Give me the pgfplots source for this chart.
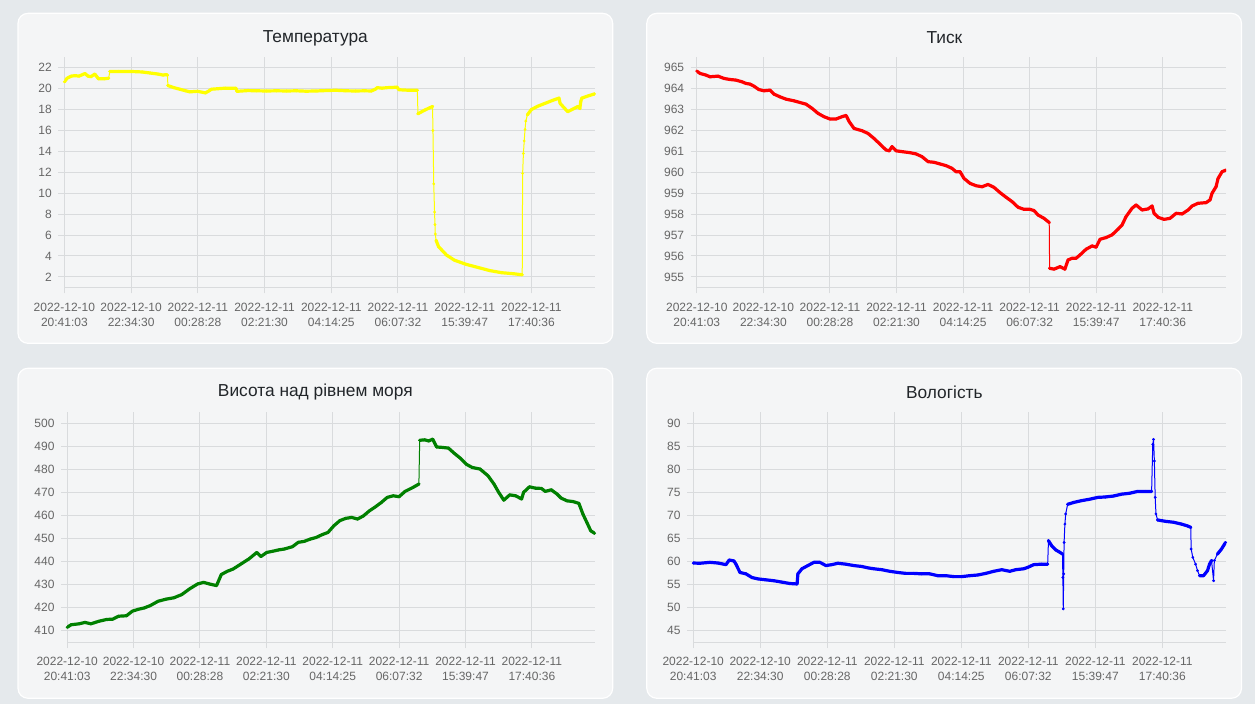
\documentclass[border=0pt]{standalone}
\usepackage{fontspec}
\setmainfont{Liberation Sans}
\usepackage{pgfplots}
\usepackage{pgfplotstable}
\pgfplotsset{compat=1.18}

\definecolor{pagebg}{HTML}{E5E9EC}
\definecolor{cardbg}{HTML}{F4F5F6}
\definecolor{gridc}{HTML}{D9DBDD}
\definecolor{tickc}{HTML}{666666}
\definecolor{titlec}{HTML}{212529}
\definecolor{ylw}{HTML}{FFFF00}
\definecolor{rd}{HTML}{FF0000}
\definecolor{grn}{HTML}{008000}
\definecolor{blu}{HTML}{0000FF}

% u = category position (tick index), v = value, w = 1 where the line is dense (thick)
\pgfplotstableread{
u v w
0.000 20.66 1
0.041 21.00 1
0.101 21.20 1
0.160 21.25 1
0.219 21.20 1
0.308 21.45 1
0.355 21.20 1
0.397 21.15 1
0.456 21.40 1
0.486 21.15 1
0.510 20.95 1
0.600 20.95 1
0.663 21.00 1
nan nan nan
0.681 21.65 1
0.811 21.65 1
0.989 21.65 1
1.166 21.60 1
1.285 21.50 1
1.403 21.40 1
1.480 21.30 1
1.522 21.35 1
1.545 21.30 1
nan nan nan
1.551 20.30 1
1.640 20.10 1
1.730 19.95 1
1.818 19.80 1
1.880 19.70 1
1.995 19.75 1
2.114 19.60 1
2.170 19.80 1
2.202 19.95 1
2.410 20.05 1
2.570 20.05 1
2.587 19.75 1
2.750 19.82 1
2.883 19.80 1
3.030 19.78 1
3.179 19.80 1
3.330 19.78 1
3.475 19.80 1
3.620 19.76 1
3.771 19.78 1
3.920 19.82 1
4.068 19.85 1
4.220 19.80 1
4.364 19.78 1
4.500 19.80 1
4.600 19.78 1
4.660 19.95 1
4.689 20.10 1
4.760 20.05 1
4.837 20.10 1
4.920 20.12 1
4.985 20.15 1
5.015 19.90 1
5.163 19.85 1
5.290 19.85 1
nan nan nan
5.299 17.60 1
5.400 17.95 1
5.518 18.30 1
5.524 16.00 0
5.536 10.90 0
5.548 8.20 0
5.554 7.00 0
5.559 6.10 0
5.571 5.50 1
5.607 4.90 1
5.725 4.10 1
5.844 3.60 1
6.021 3.20 1
6.199 2.90 1
6.377 2.60 1
6.554 2.40 1
6.732 2.30 1
6.862 2.20 1
6.868 11.90 0
6.880 13.80 0
6.892 15.00 0
6.904 16.10 0
6.916 16.90 0
6.940 17.50 1
6.998 18.00 1
7.087 18.30 1
7.205 18.60 1
7.324 18.90 1
7.413 19.10 1
7.430 18.60 1
7.472 18.30 1
7.544 17.80 1
7.637 18.10 1
7.696 18.30 1
7.726 18.10 1
7.740 18.80 1
7.756 19.10 1
7.845 19.30 1
7.946 19.50 1
}\temp

\pgfplotstableread{
u v w
0.000 964.84 1
0.048 964.73 1
0.138 964.65 1
0.198 964.57 1
0.319 964.60 1
0.409 964.49 1
0.499 964.44 1
0.589 964.41 1
0.679 964.33 1
0.739 964.25 1
0.799 964.22 1
0.859 964.12 1
0.931 963.96 1
1.010 963.90 1
1.100 963.93 1
1.160 963.74 1
1.250 963.61 1
1.340 963.50 1
1.460 963.42 1
1.550 963.34 1
1.641 963.26 1
1.731 963.06 1
1.821 962.82 1
1.911 962.66 1
2.001 962.55 1
2.091 962.55 1
2.181 962.66 1
2.242 962.72 1
2.290 962.42 1
2.362 962.10 1
2.482 961.99 1
2.572 961.86 1
2.662 961.62 1
2.752 961.35 1
2.842 961.07 1
2.891 961.03 1
2.933 961.23 1
2.993 961.03 1
3.083 960.99 1
3.203 960.94 1
3.293 960.88 1
3.383 960.75 1
3.474 960.51 1
3.564 960.48 1
3.654 960.40 1
3.744 960.32 1
3.834 960.19 1
3.894 960.03 1
3.954 960.03 1
4.014 959.71 1
4.105 959.47 1
4.195 959.36 1
4.285 959.31 1
4.375 959.42 1
4.465 959.28 1
4.555 959.03 1
4.645 958.81 1
4.736 958.60 1
4.826 958.33 1
4.916 958.23 1
5.006 958.23 1
5.066 958.17 1
5.126 957.96 1
5.216 957.80 1
5.294 957.60 1
nan nan nan
5.300 955.41 1
5.367 955.37 1
5.457 955.49 1
5.529 955.37 1
5.577 955.81 1
5.637 955.89 1
5.697 955.89 1
5.757 956.05 1
5.847 956.32 1
5.938 956.48 1
5.998 956.42 1
6.058 956.80 1
6.148 956.88 1
6.238 957.01 1
6.328 957.28 1
6.388 957.48 1
6.448 957.88 1
6.538 958.28 1
6.599 958.44 1
6.689 958.20 1
6.779 958.25 1
6.839 958.39 1
6.869 958.04 1
6.929 957.85 1
7.019 957.75 1
7.109 957.80 1
7.200 958.04 1
7.290 958.01 1
7.380 958.20 1
7.440 958.39 1
7.530 958.52 1
7.650 958.55 1
7.710 958.68 1
7.740 959.00 1
7.800 959.31 1
7.831 959.71 1
7.891 960.03 1
7.951 960.11 1
}\pres

\pgfplotstableread{
u v w
0.000 411.4 1
0.060 412.5 1
0.179 412.9 1
0.268 413.5 1
0.357 412.9 1
0.476 414.0 1
0.595 414.8 1
0.685 414.9 1
0.774 416.2 1
0.893 416.4 1
0.982 418.4 1
1.071 419.2 1
1.161 419.8 1
1.250 420.8 1
1.369 422.7 1
1.488 423.6 1
1.607 424.2 1
1.726 425.6 1
1.845 428.1 1
1.964 430.2 1
2.054 430.9 1
2.143 430.2 1
2.250 429.5 1
2.321 434.3 1
2.411 435.7 1
2.500 436.7 1
2.619 438.9 1
2.738 441.1 1
2.857 443.9 1
2.917 442.1 1
3.006 443.9 1
3.095 444.4 1
3.185 445.0 1
3.274 445.4 1
3.393 446.4 1
3.482 448.3 1
3.571 448.7 1
3.661 449.7 1
3.750 450.4 1
3.839 451.6 1
3.929 452.6 1
4.018 455.5 1
4.107 457.7 1
4.196 458.7 1
4.286 459.1 1
4.375 458.4 1
4.464 459.8 1
4.554 462.0 1
4.643 463.7 1
4.732 465.6 1
4.821 467.8 1
4.911 468.5 1
5.000 468.1 1
5.089 470.4 1
5.208 472.1 1
5.298 473.6 1
nan nan nan
5.310 492.6 1
5.387 492.8 1
5.446 492.3 1
5.506 493.1 1
5.565 489.7 1
5.655 489.5 1
5.744 489.2 1
5.833 486.9 1
5.923 484.8 1
6.012 482.2 1
6.101 480.8 1
6.220 480.1 1
6.339 477.2 1
6.429 473.6 1
6.500 470.0 1
6.577 466.6 1
6.667 468.9 1
6.756 468.5 1
6.845 467.1 1
6.875 470.0 1
6.964 472.4 1
7.054 471.8 1
7.143 471.7 1
7.202 470.4 1
7.292 471.1 1
7.381 469.2 1
7.440 467.5 1
7.530 466.3 1
7.619 466.0 1
7.708 465.2 1
7.768 460.6 1
7.827 457.0 1
7.887 453.3 1
7.946 452.2 1
}\alt

\pgfplotstableread{
u v w
0.000 59.65 1
0.101 59.60 1
0.250 59.80 1
0.370 59.65 1
0.489 59.30 1
0.537 60.30 1
0.608 60.10 1
0.638 59.40 1
0.698 57.60 1
0.787 57.30 1
0.877 56.50 1
0.966 56.20 1
1.085 56.00 1
1.205 55.80 1
1.324 55.50 1
1.443 55.20 1
1.550 55.10 1
1.562 57.30 1
1.622 58.40 1
1.711 59.10 1
1.801 59.80 1
1.890 59.80 1
1.980 59.10 1
2.069 59.30 1
2.159 59.60 1
2.278 59.40 1
2.397 59.10 1
2.516 58.90 1
2.606 58.60 1
2.695 58.40 1
2.815 58.20 1
2.934 57.85 1
3.053 57.60 1
3.172 57.40 1
3.292 57.40 1
3.411 57.30 1
3.530 57.30 1
3.649 56.90 1
3.769 56.90 1
3.888 56.70 1
4.007 56.70 1
4.126 56.90 1
4.246 57.05 1
4.365 57.40 1
4.484 57.85 1
4.603 58.20 1
4.723 57.85 1
4.812 58.20 1
4.931 58.40 1
4.991 58.70 1
5.081 59.30 1
5.200 59.40 1
5.289 59.40 1
nan nan nan
5.301 64.50 1
5.349 63.40 1
5.409 62.50 1
5.468 62.00 1
5.510 61.60 1
5.516 56.50 0
5.522 49.70 0
5.528 57.30 0
5.534 64.10 0
5.546 68.10 0
5.558 70.30 0
5.587 72.40 1
5.677 72.80 1
5.796 73.20 1
5.915 73.50 1
6.035 73.90 1
6.154 74.00 1
6.273 74.20 1
6.392 74.60 1
6.512 74.80 1
6.631 75.20 1
6.750 75.20 1
6.840 75.20 1
6.857 85.40 0
6.869 86.50 0
6.881 81.80 0
6.893 73.90 0
6.905 70.30 0
6.929 69.00 1
7.048 68.70 1
7.168 68.50 1
7.287 68.10 1
7.376 67.70 1
7.424 67.40 1
7.430 62.70 0
7.454 60.90 0
7.496 59.40 0
7.525 58.00 0
7.555 56.90 1
7.615 56.90 1
7.674 58.00 1
7.704 59.40 1
7.734 60.20 1
7.764 55.80 0
7.776 60.20 0
7.823 61.60 1
7.883 62.70 1
7.943 64.10 1
}\hum

\pgfplotsset{
  card/.style={
    scale only axis, anchor=south west,
    xmin=0, xmax=7.95,
    axis x line*=bottom, axis y line*=left,
    axis line style={gridc, line width=0.75pt, -},
    grid=major, major grid style={gridc, line width=0.75pt},
    xtick={0,...,7},
    xticklabels={{2022-12-10\\20:41:03},{2022-12-10\\22:34:30},{2022-12-11\\00:28:28},{2022-12-11\\02:21:30},{2022-12-11\\04:14:25},{2022-12-11\\06:07:32},{2022-12-11\\15:39:47},{2022-12-11\\17:40:36}},
    tick align=outside, major tick length=4.5pt,
    tick style={gridc, line width=0.75pt},
    ticklabel style={font=\fontsize{9}{11.25}\selectfont, text=tickc},
    xticklabel style={align=center, yshift=-3.5pt},
    yticklabel style={xshift=-1.5pt},
    /pgf/number format/assume math mode=true,
    /pgf/number format/1000 sep={},
  },
  lnthin/.style={line width=0.75pt, mark=*, mark size=0.9pt,
    mark options={line width=0.3pt}, unbounded coords=discard},
  lnthick/.style={line width=2.4pt, line join=round, line cap=round, no marks,
    unbounded coords=jump, restrict expr to domain={\thisrow{w}}{0.5:1.5}},
}

\begin{document}
\begin{tikzpicture}
% page and cards
\fill[pagebg] (0,0) rectangle (941.25pt,528pt);
\foreach \cx/\cy in {13.5/270.5, 485.1/270.5, 13.5/4.3, 485.1/4.3}{
  \draw[white, line width=0.9pt, fill=cardbg, rounded corners=7.5pt]
    (\cx pt,\cy pt) rectangle ++(446pt,247.5pt);
}
\node[font=\fontsize{13}{15}\selectfont, text=titlec] at (236.5pt,499.6pt) {Температура};
\node[font=\fontsize{13}{15}\selectfont, text=titlec] at (708.3pt,499.6pt) {Тиск};
\node[font=\fontsize{13}{15}\selectfont, text=titlec] at (236.5pt,234.1pt) {Висота над рівнем моря};
\node[font=\fontsize{13}{15}\selectfont, text=titlec] at (708.3pt,234.1pt) {Вологість};

\begin{axis}[card, at={(48.3pt,312.5pt)}, width=397.8pt, height=172.5pt,
  ymin=1, ymax=23, ytick={2,4,...,22}]
\addplot[lnthin, ylw] table[x=u, y=v] {\temp};
\addplot[lnthick, ylw] table[x=u, y=v] {\temp};
\end{axis}

\begin{axis}[card, at={(522.6pt,312.5pt)}, width=396.9pt, height=172.5pt,
  ymin=954.5, ymax=965.5, ytick={955,956,...,965}]
\addplot[lnthin, rd] table[x=u, y=v] {\pres};
\addplot[lnthick, rd] table[x=u, y=v] {\pres};
\end{axis}

\begin{axis}[card, at={(50.4pt,46.5pt)}, width=395.8pt, height=172.7pt,
  ymin=405, ymax=505, ytick={410,420,...,500}]
\addplot[lnthin, grn] table[x=u, y=v] {\alt};
\addplot[lnthick, grn] table[x=u, y=v] {\alt};
\end{axis}

\begin{axis}[card, at={(519.9pt,46.5pt)}, width=399.6pt, height=172.7pt,
  ymin=42.5, ymax=92.5, ytick={45,50,...,90}]
\addplot[lnthin, blu] table[x=u, y=v] {\hum};
\addplot[lnthick, blu] table[x=u, y=v] {\hum};
\end{axis}
\end{tikzpicture}
\end{document}
